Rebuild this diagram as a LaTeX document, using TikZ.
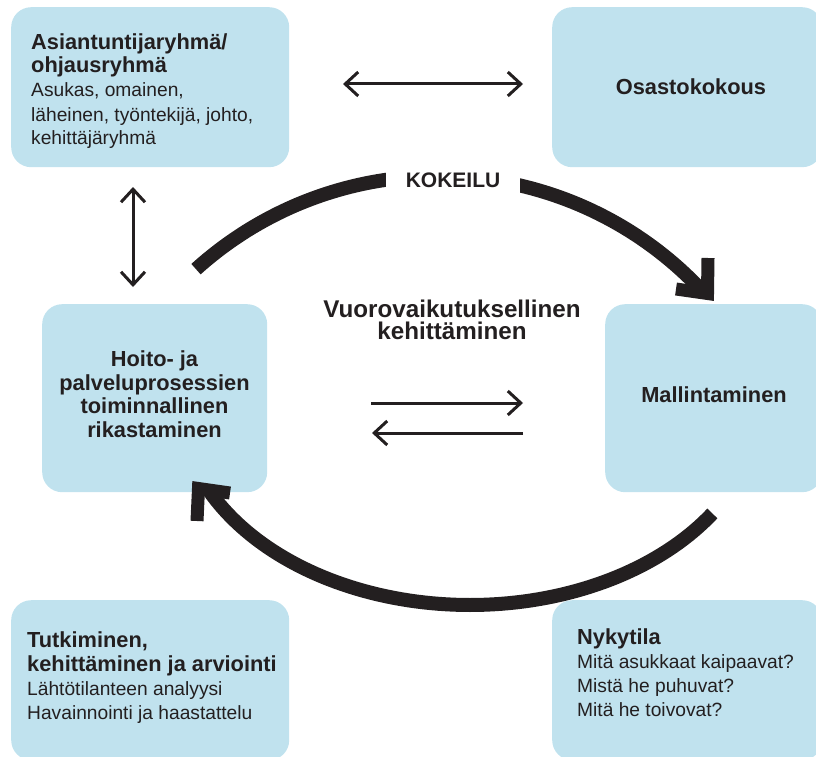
\documentclass[tikz,border=0pt]{standalone}
\usepackage{fontspec}
\setmainfont{Liberation Sans}
\usetikzlibrary{arrows.meta}
\definecolor{boxblue}{HTML}{C0E2EE}
\definecolor{ink}{HTML}{231F20}
\newcommand\hbf{\fontsize{21.8}{24}\selectfont\bfseries}
\newcommand\hrg{\fontsize{19.2}{24}\selectfont}
\begin{document}
\begin{tikzpicture}[x=1pt,y=-1pt,
  box/.style={fill=boxblue, draw=none, rounded corners=20pt, anchor=north west, inner sep=0pt},
  txt/.style={text=ink, inner sep=0pt, align=left, font=\hrg},
  ctxt/.style={text=ink, inner sep=0pt, align=center},
  barb/.tip={Straight Barb[length=13pt,width=24pt,sharp]},
  thinarrow/.style={draw=ink, line width=3pt},
  bigarc/.style={draw=ink, line width=14pt, line cap=butt},
  chev/.style={draw=ink, line width=13pt, line cap=butt, line join=miter}]
\clip (0,0) rectangle (816,757);
% boxes
\node[box, minimum width=278pt, minimum height=160pt] (tl) at (11,7) {};
\node[box, minimum width=270pt, minimum height=160pt] (tr) at (552,7) {};
\node[box, minimum width=225pt, minimum height=188pt] (ml) at (42,304) {};
\node[box, minimum width=217pt, minimum height=188pt] (mr) at (605,304) {};
\node[box, minimum width=278pt, minimum height=160pt] (bl) at (11,600) {};
\node[box, minimum width=270pt, minimum height=160pt] (br) at (552,600) {};
% texts (base anchor = baseline of the last line)
\node[txt, anchor=base west] (tlt) at (31,145) {{\hbf Asiantuntijaryhmä/}\\{\hbf ohjausryhmä}\\Asukas, omainen,\\läheinen, työntekijä, johto,\\kehittäjäryhmä};
\node[ctxt, font=\hbf, anchor=base] (trt) at (691,95) {Osastokokous};
\node[ctxt, font=\fontsize{21.8}{23.5}\selectfont\bfseries, anchor=base] (mlt) at (154.5,437) {Hoito- ja\\palveluprosessien\\toiminnallinen\\rikastaminen};
\node[ctxt, font=\hbf, anchor=base] (mrt) at (714,402) {Mallintaminen};
\node[txt, anchor=base west] (blt) at (27,719) {{\hbf Tutkiminen,}\\{\hbf kehittäminen ja arviointi}\\Lähtötilanteen analyysi\\Havainnointi ja haastattelu};
\node[txt, anchor=base west] (brt) at (577,716) {{\hbf Nykytila}\\Mitä asukkaat kaipaavat?\\Mistä he puhuvat?\\Mitä he toivovat?};
\node[ctxt, font=\fontsize{24.2}{22}\selectfont\bfseries, anchor=base] (vk) at (452,339) {Vuorovaikutuksellinen\\kehittäminen};
% thin arrows
\coordinate (h1) at (343,84);
\coordinate (h2) at (523,84);
\draw[thinarrow, barb-barb] (h1) -- (h2);
\coordinate (v1) at (133,187);
\coordinate (v2) at (133,287);
\draw[thinarrow, barb-barb] (v1) -- (v2);
\coordinate (m1) at (371,403);
\coordinate (m2) at (523,403);
\draw[thinarrow, -barb] (m1) -- (m2);
\coordinate (m3) at (523,433);
\coordinate (m4) at (372,433);
\draw[thinarrow, -barb] (m3) -- (m4);
% top arc (circle, centre (438,537), radius 361)
\draw[bigarc] plot[domain=-132.1:-43.4, samples=80, variable=\t] ({438+361*cos(\t)},{537+361*sin(\t)});
\draw[chev] (708,258) -- (707.5,293.5) -- (676,289);
\node[ctxt, font=\fontsize{21}{24}\selectfont\bfseries, fill=white, inner xsep=20pt, inner ysep=6pt, anchor=base] (kok) at (453,187) {KOKEILU};
% bottom arc (ellipse, centre (470,400), radii 291 x 205)
\draw[bigarc] plot[domain=33.6:154, samples=80, variable=\t] ({470+291*cos(\t)},{400+205*sin(\t)});
\draw[chev] (197,521) -- (198.5,488.5) -- (230,493);
\end{tikzpicture}
\end{document}
